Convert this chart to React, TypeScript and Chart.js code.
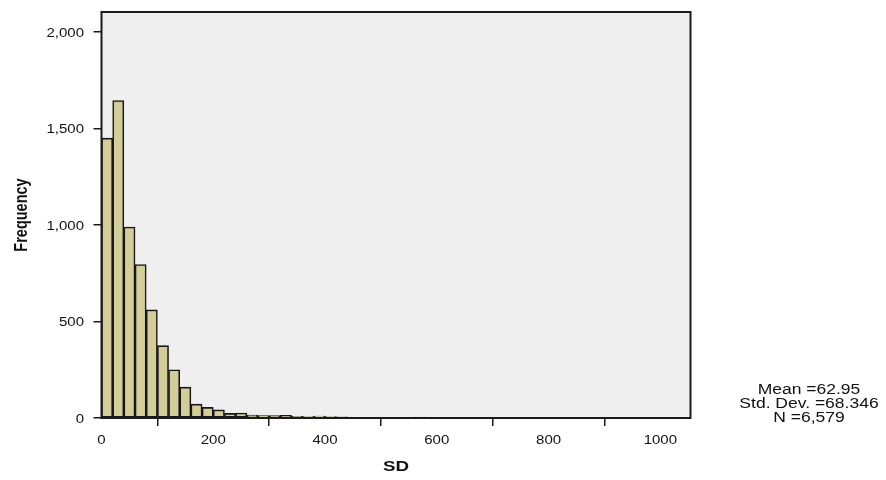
import { useEffect, useRef } from "react";
import { Chart, registerables } from "chart.js";

Chart.register(...registerables);

// ---- Data (bin width 20) ----
const binWidth = 20;
const binStarts = [
  0, 20, 40, 60, 80, 100, 120, 140, 160, 180,
  200, 220, 240, 260, 280, 300, 320, 340, 360, 380,
  400, 420, 440, 460, 480, 500, 520, 540, 560, 580,
  600, 620, 640, 660, 680, 700, 720, 740, 760, 780,
  800, 820, 840, 860, 880, 900, 920, 940, 960, 980,
  1000, 1020,
];
const frequencies = [
  1450, 1645, 990, 795, 560, 375, 250, 160, 72, 55,
  42, 24, 26, 15, 13, 12, 14, 9, 8, 10,
  7, 6, 3, 3, 2, 2, 3, 2, 5, 2,
  1, 1, 2, 2, 2, 1, 1, 0, 1, 0,
  1, 0, 0, 2, 0, 0, 0, 1, 0, 2,
  0, 0,
];
const xTickValues = [0, 200, 400, 600, 800, 1000];
const xTickLabels = ["0", "200", "400", "600", "800", "1000"];
const yTickValues = [0, 500, 1000, 1500, 2000];
const yTickLabels = ["0", "500", "1,000", "1,500", "2,000"];
const xTitle = "SD";
const yTitle = "Frequency";
const statsLines = ["Mean =62.95", "Std. Dev. =68.346", "N =6,579"];

const X_MIN = 0;
const X_MAX = 1054;
const Y_MIN = 0;
const Y_MAX = 2104;

const STRETCH = 1.25;
const FONT = '"Liberation Sans", Arial, sans-serif';

function drawText(
  ctx: CanvasRenderingContext2D,
  text: string,
  x: number,
  y: number,
  align: CanvasTextAlign,
  font: string,
  rotate = false
) {
  ctx.save();
  ctx.translate(x, y);
  ctx.scale(STRETCH, 1);
  if (rotate) ctx.rotate(-Math.PI / 2);
  ctx.font = font;
  ctx.textAlign = align;
  ctx.textBaseline = "alphabetic";
  ctx.fillStyle = "#111";
  ctx.fillText(text, 0, 0);
  ctx.restore();
}

const framePlugin = {
  id: "spssFrame",
  beforeDraw(chart: any) {
    const { ctx, chartArea: a } = chart;
    ctx.save();
    ctx.fillStyle = "#efefef";
    ctx.fillRect(a.left, a.top, a.right - a.left, a.bottom - a.top);
    ctx.restore();
  },
  afterDatasetsDraw(chart: any) {
    const { ctx, chartArea: a } = chart;
    ctx.save();
    ctx.strokeStyle = "#1a1a1a";
    ctx.lineWidth = 2;
    ctx.strokeRect(a.left, a.top, a.right - a.left, a.bottom - a.top);
    ctx.restore();
  },
  afterDraw(chart: any) {
    const { ctx, chartArea: a } = chart;
    const xs = chart.scales.x;
    const ys = chart.scales.y;
    const tickFont = `12px ${FONT}`;
    yTickValues.forEach((v, i) => {
      const py = ys.getPixelForValue(v);
      drawText(ctx, yTickLabels[i], 84, py + 4.5, "right", tickFont);
    });
    xTickValues.forEach((v, i) => {
      const px = xs.getPixelForValue(v);
      drawText(ctx, xTickLabels[i], px, 443.5, "center", tickFont);
    });
    drawText(ctx, xTitle, (a.left + a.right) / 2, 471, "center", `bold 15px ${FONT}`);
    drawText(ctx, yTitle, 27, (a.top + a.bottom) / 2, "center", `bold 14.5px ${FONT}`, true);
    const statFont = `14px ${FONT}`;
    statsLines.forEach((s, i) => {
      drawText(ctx, s, 809, 394 + i * 14, "center", statFont);
    });
  },
};

export default function App() {
  const ref = useRef<HTMLCanvasElement | null>(null);

  useEffect(() => {
    if (!ref.current) return;
    const data = binStarts.map((s, i) => ({ x: s + binWidth / 2, y: frequencies[i] }));
    const chart = new Chart(ref.current, {
      type: "bar",
      data: {
        datasets: [
          {
            data: data as any,
            backgroundColor: "#d3ce99",
            borderColor: "#161616",
            borderWidth: 1.6,
            borderSkipped: false,
            barPercentage: 1,
            categoryPercentage: 1,
          },
        ],
      },
      options: {
        animation: false,
        responsive: false,
        devicePixelRatio: 1,
        layout: { padding: { top: 12, right: 195.5, left: 0, bottom: 0 } },
        plugins: {
          legend: { display: false },
          tooltip: { enabled: false },
        },
        scales: {
          x: {
            type: "linear",
            min: X_MIN,
            max: X_MAX,
            offset: false,
            afterBuildTicks: (scale: any) => {
              scale.ticks = xTickValues.map((v) => ({ value: v }));
            },
            afterFit: (scale: any) => {
              scale.height = 62;
            },
            ticks: { display: false },
            grid: {
              drawOnChartArea: false,
              drawTicks: true,
              tickLength: 8,
              color: "#1a1a1a",
              lineWidth: 1.5,
            },
            border: { display: false },
          },
          y: {
            type: "linear",
            min: Y_MIN,
            max: Y_MAX,
            afterBuildTicks: (scale: any) => {
              scale.ticks = yTickValues.map((v) => ({ value: v }));
            },
            afterFit: (scale: any) => {
              scale.width = 101.5;
            },
            ticks: { display: false },
            grid: {
              drawOnChartArea: false,
              drawTicks: true,
              tickLength: 8,
              color: "#1a1a1a",
              lineWidth: 1.5,
            },
            border: { display: false },
          },
        },
      },
      plugins: [framePlugin],
    });
    return () => chart.destroy();
  }, []);

  return (
    <div style={{ position: "absolute", left: 0, top: 0, width: 886, height: 480, background: "#fff" }}>
      <canvas ref={ref} width={886} height={480} style={{ display: "block" }} />
    </div>
  );
}
